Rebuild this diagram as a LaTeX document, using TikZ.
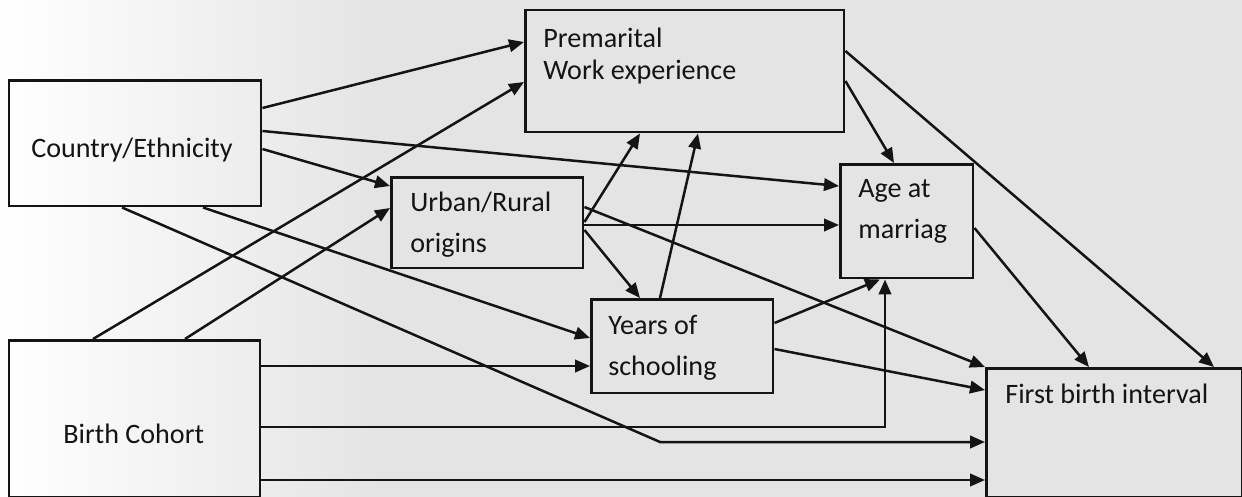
\documentclass[tikz,border=0pt]{standalone}
\usepackage{fontspec}
\setmainfont{Carlito}
\usepackage{xcolor}
\usepackage{tikz}
\usetikzlibrary{calc,positioning,arrows.meta}
\definecolor{paper}{RGB}{228,228,228}
\definecolor{ink}{RGB}{20,20,20}

\begin{document}
\begin{tikzpicture}[x=0.02cm, y=-0.02cm,
        box/.style={draw=ink, line width=0.05cm, anchor=north west, inner sep=0pt},
        lbl/.style={text=ink, inner sep=0pt, anchor=base west, align=left,
                    font=\fontsize{16}{22.8}\selectfont},
        arr/.style={draw=ink, line width=0.05cm, -{Triangle[length=0.3cm, width=0.25cm]}}]
        \useasboundingbox (0,0) rectangle (1242,497);
        \fill[paper] (0,0) rectangle (1242,497);
        \shade[left color=white, right color=paper] (0,0) rectangle (380,497); % faded left edge

        % boxes
        \node[box, minimum width=5.04cm, minimum height=2.52cm] (ce) at (8,79) {};   % country
        \node[box, minimum width=5.02cm, minimum height=3.14cm] (bc) at (8,339) {};  % cohort
        \node[box, minimum width=6.38cm, minimum height=2.44cm] (pw) at (524,9) {};  % work
        \node[box, minimum width=3.84cm, minimum height=1.82cm] (ur) at (390,176) {}; % origins
        \node[box, minimum width=2.66cm, minimum height=2.28cm] (am) at (839,163) {}; % marriage
        \node[box, minimum width=3.64cm, minimum height=1.88cm] (ys) at (590,298) {}; % schooling
        \node[box, minimum width=5.12cm, minimum height=2.58cm] (fb) at (985,367) {}; % first birth

        % texts (base = last line)
        \node[lbl] (ce-t) at (31,157) {Country/Ethnicity};
        \node[lbl] (bc-t) at (63,443) {Birth Cohort};
        \node[lbl, font=\fontsize{16}{18.2}\selectfont] (pw-t) at (543,79) {Premarital\\Work experience};
        \node[lbl] (ur-t) at (410,252) {Urban/Rural\\origins};
        \node[lbl] (am-t) at (858,238) {Age at\\marriag};
        \node[lbl] (ys-t) at (608,375) {Years of\\schooling};
        \node[lbl] (fb-t) at (1005,403) {First birth interval};

        % from country/ethnicity
        \draw[arr] ($(ce.north east)+(0,29)$) -- ($(pw.north west)+(0,33)$);
        \draw[arr] ($(ce.north east)+(0,52)$) -- ($(am.north west)+(0,23)$);
        \draw[arr] ($(ce.north east)+(0,70)$) -- ($(ur.north west)+(0,10)$);
        \draw[arr] ($(ce.south west)+(114,0)$) -- (660,442) -- ($(fb.north west)+(0,75)$);
        \draw[arr] ($(ce.south west)+(195,0)$) -- ($(ys.north west)+(0,40)$);

        % from birth cohort
        \draw[arr] ($(bc.north west)+(85,0)$) -- ($(pw.north west)+(0,73)$);
        \draw[arr] ($(bc.north west)+(177,0)$) -- ($(ur.north west)+(0,32)$);
        \draw[arr] ($(bc.north east)+(0,27)$) -- ($(ys.north west)+(0,68)$);
        \draw[arr] ($(bc.north east)+(0,88)$) -| ($(am.south west)+(46,0)$);
        \draw[arr] ($(bc.north east)+(0,141)$) -- ($(fb.north west)+(0,113)$);

        % from urban/rural origins
        \draw[arr] ($(ur.north east)+(0,31)$) -- (fb.north west);
        \draw[arr] ($(ur.north east)+(0,46)$) -- ($(pw.south west)+(116,0)$);
        \draw[arr] ($(ur.north east)+(0,49)$) -- ($(am.north west)+(0,62)$);
        \draw[arr] ($(ur.north east)+(0,54)$) -- ($(ys.north west)+(50,0)$);

        % from schooling
        \draw[arr] ($(ys.north west)+(70,0)$) -- ($(pw.south west)+(174,0)$);
        \draw[arr] ($(ys.north east)+(0,25)$) -- ($(am.south west)+(41,0)$);
        \draw[arr] ($(ys.north east)+(0,51)$) -- ($(fb.north west)+(0,23)$);

        % from work experience and marriage
        \draw[arr] ($(pw.north east)+(0,42)$) -- ($(fb.north west)+(229,0)$);
        \draw[arr] ($(pw.north east)+(0,72)$) -- ($(am.north west)+(55,0)$);
        \draw[arr] ($(am.north east)+(0,65)$) -- ($(fb.north west)+(104,0)$);

    \end{tikzpicture}
\end{document}
